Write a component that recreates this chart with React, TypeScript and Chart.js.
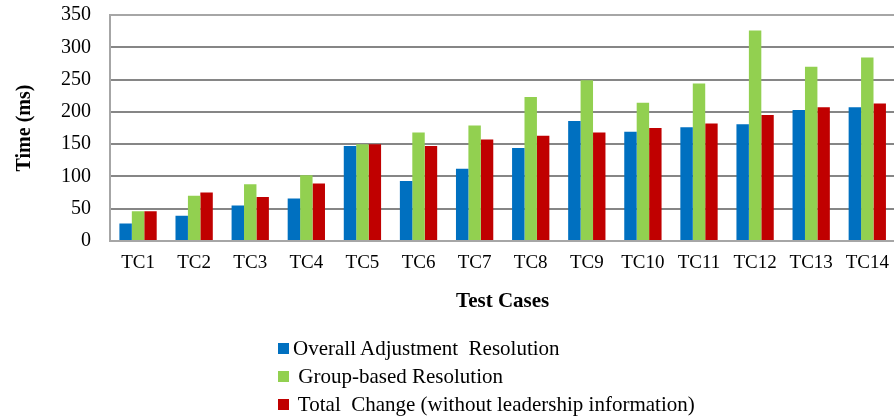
import React, { useEffect, useRef } from "react";
import { Chart, registerables } from "chart.js";

Chart.register(...registerables);

const categories = ["TC1", "TC2", "TC3", "TC4", "TC5", "TC6", "TC7", "TC8", "TC9", "TC10", "TC11", "TC12", "TC13", "TC14"];
const overallAdjustment = [27, 39, 55, 66, 147, 93, 112, 144, 186, 169, 176, 181, 203, 207];
const groupBased = [46, 70, 88, 102, 150, 168, 179, 223, 249, 214, 244, 326, 270, 284];
const totalChange = [46, 75, 68, 89, 150, 147, 157, 163, 168, 175, 182, 195, 207, 213];
const seriesNames = ["Overall Adjustment  Resolution", " Group-based Resolution", " Total  Change (without leadership information)"];
const seriesColors = ["#0070C0", "#92D050", "#C00000"];
const yTicks = [0, 50, 100, 150, 200, 250, 300, 350];

const FONT = "'Liberation Serif', 'Times New Roman', serif";

export default function App() {
  const ref = useRef<HTMLCanvasElement | null>(null);
  useEffect(() => {
    if (!ref.current) return;
    const values = [overallAdjustment, groupBased, totalChange];
    const chart = new Chart(ref.current, {
      type: "bar",
      data: {
        labels: categories,
        datasets: values.map((v, i) => ({
          label: seriesNames[i],
          data: v,
          backgroundColor: seriesColors[i],
          borderWidth: 0,
          barPercentage: 1,
          categoryPercentage: 0.665,
        })),
      },
      options: {
        animation: false,
        responsive: false,
        devicePixelRatio: 1,
        layout: { padding: { top: 15, right: 2, bottom: 104, left: 0 } },
        plugins: { legend: { display: false }, tooltip: { enabled: false } },
        scales: {
          x: {
            grid: { display: false, drawTicks: false },
            border: { display: true, color: "#a6a6a6", width: 2 },
            ticks: { color: "#000", font: { family: FONT, size: 19 }, padding: 11, maxRotation: 0, autoSkip: false },
            title: {
              display: true,
              text: "Test Cases",
              color: "#000",
              font: { family: FONT, size: 21, weight: "bold" },
              padding: { top: 3, bottom: 0 },
            },
          },
          y: {
            min: 0,
            max: 350,
            afterBuildTicks: (axis: any) => {
              axis.ticks = yTicks.map((v) => ({ value: v }));
            },
            afterFit: (axis: any) => {
              axis.width = 110;
              axis.paddingTop = 0;
              axis.paddingBottom = 0;
            },
            grid: {
              drawTicks: false,
              color: (ctx: any) => (ctx.tick && (ctx.tick.value === 350 || ctx.tick.value === 0) ? "#a6a6a6" : "#868686"),
              lineWidth: 2,
            },
            border: { display: true, color: "#a6a6a6", width: 2 },
            ticks: { color: "#000", font: { family: FONT, size: 20 }, padding: 19 },
            title: {
              display: true,
              text: "Time (ms)",
              color: "#000",
              font: { family: FONT, size: 20, weight: "bold" },
              padding: { top: 13, bottom: 0 },
            },
          },
        },
      },
    });
    return () => chart.destroy();
  }, []);

  return (
    <div style={{ position: "fixed", left: 0, top: 0, width: 894, height: 418, overflow: "hidden", background: "#fff" }}>
      <canvas ref={ref} width={900} height={418} style={{ display: "block", width: 900, height: 418 }} />
      <div style={{ position: "absolute", left: 278, top: 334, fontFamily: FONT, fontSize: 21, color: "#000" }}>
        {seriesNames.map((name, i) => (
          <div key={name} style={{ display: "flex", alignItems: "center", height: 28, whiteSpace: "pre" }}>
            <span style={{ display: "inline-block", width: 11, height: 11, background: seriesColors[i], marginRight: 4 }} />
            <span>{name}</span>
          </div>
        ))}
      </div>
    </div>
  );
}
